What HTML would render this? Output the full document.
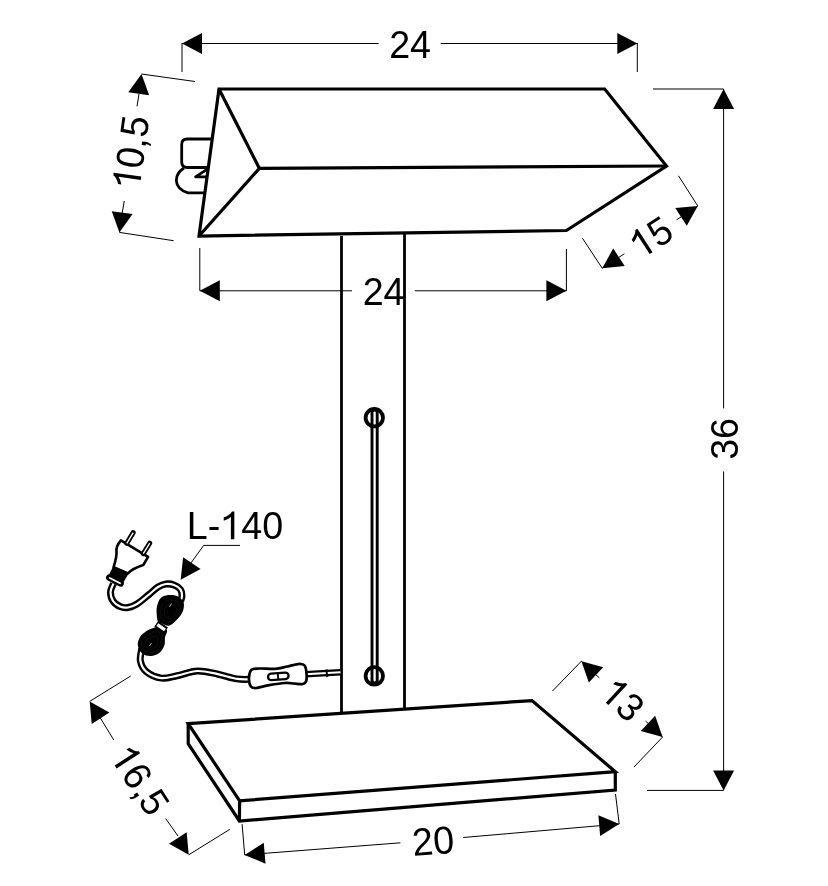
<!DOCTYPE html>
<html><head><meta charset="utf-8"><style>
html,body{margin:0;padding:0;background:#fff;}
svg{display:block;will-change:transform;}
text{font-family:"Liberation Sans",sans-serif;fill:#000;stroke:none;}
</style></head><body>
<svg width="828" height="886" viewBox="0 0 828 886" stroke="#000" fill="none">
<line x1="182" y1="43" x2="182" y2="72" stroke-width="1.0"/>
<line x1="637.3" y1="43" x2="637.3" y2="72" stroke-width="1.0"/>
<line x1="182" y1="43.5" x2="378.7" y2="43.5" stroke-width="1.0"/>
<line x1="440.7" y1="43.5" x2="637.3" y2="43.5" stroke-width="1.0"/>
<polygon points="182.00,43.50 202.00,33.00 202.00,54.00" fill="#000" stroke="none"/>
<polygon points="637.30,43.50 617.30,54.00 617.30,33.00" fill="#000" stroke="none"/>
<g transform="translate(410.10 44.15) rotate(0.00) scale(0.966 1) translate(0 13.73)" font-size="39"><text x="-21.68" y="0">24</text></g>
<polygon points="219.00,89.00 604.70,89.00 666.50,166.00 566.40,230.50 199.00,236.00" fill="none" stroke-width="3.2" stroke-linejoin="miter"/>
<polyline points="259.40,168.40 666.50,166.00" fill="none" stroke-width="3.2" stroke-linejoin="miter"/>
<polyline points="219.00,89.00 259.40,168.40 199.00,236.00" fill="none" stroke-width="3.2" stroke-linejoin="miter"/>
<path d="M211.7,139 H187.2 Q181.7,139 181.7,144.5 V162 Q181.7,167.5 187.2,167.5 H207.6" fill="none" stroke-width="2.8"/>
<path d="M184,168 Q176.3,173 176.3,180.5 Q176.8,189.5 188,192.8 H204" fill="none" stroke-width="2.8"/>
<path d="M207,169.3 L195.5,176.9 H206.5" fill="none" stroke-width="2.6" stroke-linejoin="round"/>
<line x1="141.5" y1="74" x2="195" y2="81.5" stroke-width="1.0"/>
<line x1="119.4" y1="232.4" x2="173.6" y2="240.7" stroke-width="1.0"/>
<polygon points="141.50,74.00 149.14,95.26 128.34,92.36" fill="#000" stroke="none"/>
<polygon points="119.40,232.40 111.76,211.14 132.56,214.04" fill="#000" stroke="none"/>
<line x1="139" y1="94" x2="137" y2="106.3" stroke-width="1.0"/>
<line x1="124.3" y1="201" x2="121.8" y2="215" stroke-width="1.0"/>
<g transform="translate(130.80 152.20) rotate(-82.00) scale(0.966 1) translate(0 13.73)" font-size="39"><path d="M-27.03,0 H-23.44 V-27.92 H-25.86 Q-27.81,-24.38 -34.44,-21.84 V-18.52 Q-29.76,-20.09 -27.03,-22.42 Z" fill="#000" stroke="#fff" stroke-width="0.0"/><text x="-16.26" y="0">0,5</text></g>
<line x1="653" y1="89" x2="723.6" y2="89" stroke-width="1.0"/>
<line x1="647" y1="790.4" x2="723.6" y2="790.4" stroke-width="1.0"/>
<line x1="723.6" y1="89" x2="723.6" y2="408.4" stroke-width="1.0"/>
<line x1="723.6" y1="471.4" x2="723.6" y2="790.4" stroke-width="1.0"/>
<polygon points="723.60,89.00 734.10,109.00 713.10,109.00" fill="#000" stroke="none"/>
<polygon points="723.60,790.40 713.10,770.40 734.10,770.40" fill="#000" stroke="none"/>
<g transform="translate(724.10 438.90) rotate(-90.00) scale(0.966 1) translate(0 13.73)" font-size="39"><text x="-21.68" y="0">36</text></g>
<line x1="678.5" y1="175.8" x2="697.8" y2="206" stroke-width="1.0"/>
<line x1="582.5" y1="238.3" x2="602.2" y2="268.2" stroke-width="1.0"/>
<polygon points="602.20,268.20 613.24,248.49 624.69,266.09" fill="#000" stroke="none"/>
<polygon points="697.80,206.00 686.76,225.71 675.31,208.11" fill="#000" stroke="none"/>
<g transform="translate(650.90 236.90) rotate(-33.00) scale(0.966 1) translate(0 13.73)" font-size="39"><path d="M-10.76,0 H-7.18 V-27.92 H-9.59 Q-11.54,-24.38 -18.17,-21.84 V-18.52 Q-13.49,-20.09 -10.76,-22.42 Z" fill="#000" stroke="#fff" stroke-width="0.0"/><text x="0.00" y="0">5</text></g>
<line x1="602.2" y1="268.2" x2="624.3792000000001" y2="253.7696" stroke-width="1.0"/>
<line x1="676.5767999999999" y1="219.8084" x2="697.8" y2="206" stroke-width="1.0"/>
<line x1="199.8" y1="248" x2="199.8" y2="290.8" stroke-width="1.0"/>
<line x1="566.4" y1="249" x2="566.4" y2="290.8" stroke-width="1.0"/>
<line x1="199.8" y1="290.8" x2="352" y2="290.8" stroke-width="1.0"/>
<line x1="414.8" y1="290.8" x2="566.4" y2="290.8" stroke-width="1.0"/>
<polygon points="199.80,290.80 219.80,280.30 219.80,301.30" fill="#000" stroke="none"/>
<polygon points="566.40,290.80 546.40,301.30 546.40,280.30" fill="#000" stroke="none"/>
<g transform="translate(383.60 291.40) rotate(0.00) scale(0.966 1) translate(0 13.73)" font-size="39"><text x="-21.68" y="0">24</text></g>
<line x1="341.5" y1="236" x2="341.5" y2="712.8" stroke-width="2.8"/>
<line x1="404.5" y1="233" x2="404.5" y2="708.5" stroke-width="2.8"/>
<circle cx="374.3" cy="417.7" r="8.7" fill="none" stroke-width="3.8"/>
<circle cx="374.3" cy="675.9" r="8.7" fill="none" stroke-width="3.8"/>
<path d="M372,680.5 V412.5 Q372,410 374.6,410 Q377.2,410 377.2,412.5 V680.5 Q377.2,683 374.6,683 Q372,683 372,680.5 Z" fill="none" stroke-width="2.9"/>
<polygon points="188.20,723.60 532.00,700.60 615.30,771.70 239.60,800.80" fill="none" stroke-width="3.2" stroke-linejoin="miter"/>
<polyline points="188.20,723.60 188.20,743.70 239.40,821.00 615.30,790.00 615.30,771.70" fill="none" stroke-width="3.2" stroke-linejoin="miter"/>
<line x1="239.6" y1="800.8" x2="239.4" y2="821" stroke-width="3.2"/>
<line x1="552.5" y1="691" x2="581.4" y2="661.2" stroke-width="1.0"/>
<line x1="634" y1="767" x2="662.6" y2="737" stroke-width="1.0"/>
<polygon points="581.40,661.20 603.18,667.17 588.85,682.52" fill="#000" stroke="none"/>
<polygon points="662.60,737.00 640.82,731.03 655.15,715.68" fill="#000" stroke="none"/>
<g transform="translate(622.80 699.70) rotate(43.00) scale(0.966 1) translate(0 13.73)" font-size="39"><path d="M-10.76,0 H-7.18 V-27.92 H-9.59 Q-11.54,-24.38 -18.17,-21.84 V-18.52 Q-13.49,-20.09 -10.76,-22.42 Z" fill="#000" stroke="#fff" stroke-width="0.0"/><text x="0.00" y="0">3</text></g>
<line x1="581.4" y1="661.2" x2="599.264" y2="677.8760000000001" stroke-width="1.0"/>
<line x1="645.548" y1="721.082" x2="662.6" y2="737" stroke-width="1.0"/>
<line x1="89.7" y1="701.4" x2="130.7" y2="676" stroke-width="1.0"/>
<line x1="188.7" y1="854.8" x2="229.8" y2="829.4" stroke-width="1.0"/>
<polygon points="89.70,701.40 109.37,712.51 91.72,723.90" fill="#000" stroke="none"/>
<polygon points="188.70,854.80 169.03,843.69 186.68,832.30" fill="#000" stroke="none"/>
<line x1="100" y1="717.5" x2="113.8" y2="740" stroke-width="1.0"/>
<line x1="165.7" y1="818.6" x2="178" y2="836" stroke-width="1.0"/>
<g transform="translate(140.40 780.00) rotate(57.20) scale(0.966 1) translate(0 13.73)" font-size="39"><path d="M-27.03,0 H-23.44 V-27.92 H-25.86 Q-27.81,-24.38 -34.44,-21.84 V-18.52 Q-29.76,-20.09 -27.03,-22.42 Z" fill="#000" stroke="#fff" stroke-width="0.0"/><text x="-16.26" y="0">6,5</text></g>
<line x1="242.1" y1="824.1" x2="244.7" y2="854.9" stroke-width="1.0"/>
<line x1="615.5" y1="794" x2="619.2" y2="824" stroke-width="1.0"/>
<polygon points="244.70,854.90 263.77,842.79 265.50,863.72" fill="#000" stroke="none"/>
<polygon points="619.20,824.00 600.13,836.11 598.40,815.18" fill="#000" stroke="none"/>
<line x1="244.7" y1="854.9" x2="400.4" y2="842.8" stroke-width="1.0"/>
<line x1="463.2" y1="837.5" x2="619.2" y2="824" stroke-width="1.0"/>
<g transform="translate(433.00 840.70) rotate(-4.70) scale(0.966 1) translate(0 13.73)" font-size="39"><text x="-21.68" y="0">20</text></g>
<g transform="translate(235.00 525.60) rotate(0.00) scale(0.966 1) translate(0 13.73)" font-size="39"><text x="-49.86" y="0">L-</text><path d="M-4.27,0 H-0.68 V-27.92 H-3.10 Q-5.05,-24.38 -11.68,-21.84 V-18.52 Q-7.00,-20.09 -4.27,-22.42 Z" fill="#000" stroke="#fff" stroke-width="0.0"/><text x="6.49" y="0">40</text></g>
<line x1="203.7" y1="545.4" x2="240" y2="545.4" stroke-width="1.0"/>
<line x1="203.7" y1="545.4" x2="188" y2="567" stroke-width="1.0"/>
<polygon points="180.70,579.70 183.12,557.24 200.56,568.94" fill="#000" stroke="none"/>
<path d="M113.50,583.50 C113.00,584.92 110.58,589.08 110.50,592.00 C110.42,594.92 111.42,598.58 113.00,601.00 C114.58,603.42 117.50,605.42 120.00,606.50 C122.50,607.58 125.17,607.92 128.00,607.50 C130.83,607.08 133.50,606.17 137.00,604.00 C140.50,601.83 145.50,597.33 149.00,594.50 C152.50,591.67 155.17,588.75 158.00,587.00 C160.83,585.25 163.33,584.33 166.00,584.00 C168.67,583.67 171.58,584.08 174.00,585.00 C176.42,585.92 179.17,587.67 180.50,589.50 C181.83,591.33 182.00,594.00 182.00,596.00 C182.00,598.00 180.75,600.58 180.50,601.50" fill="none" stroke="#000" stroke-width="7.0" stroke-linecap="butt" stroke-linejoin="round"/>
<path d="M113.50,583.50 C113.00,584.92 110.58,589.08 110.50,592.00 C110.42,594.92 111.42,598.58 113.00,601.00 C114.58,603.42 117.50,605.42 120.00,606.50 C122.50,607.58 125.17,607.92 128.00,607.50 C130.83,607.08 133.50,606.17 137.00,604.00 C140.50,601.83 145.50,597.33 149.00,594.50 C152.50,591.67 155.17,588.75 158.00,587.00 C160.83,585.25 163.33,584.33 166.00,584.00 C168.67,583.67 171.58,584.08 174.00,585.00 C176.42,585.92 179.17,587.67 180.50,589.50 C181.83,591.33 182.00,594.00 182.00,596.00 C182.00,598.00 180.75,600.58 180.50,601.50" fill="none" stroke="#fff" stroke-width="2.2" stroke-linecap="butt" stroke-linejoin="round"/>
<path d="M141.80,648.50 C141.57,650.58 139.62,657.12 140.40,661.00 C141.18,664.88 143.00,668.95 146.50,671.80 C150.00,674.65 156.30,677.45 161.40,678.10 C166.50,678.75 171.08,676.88 177.10,675.70 C183.12,674.52 190.70,671.25 197.50,671.00 C204.30,670.75 211.35,672.88 217.90,674.20 C224.45,675.52 231.28,678.05 236.80,678.90 C242.32,679.75 248.63,679.23 251.00,679.30" fill="none" stroke="#000" stroke-width="7.0" stroke-linecap="butt" stroke-linejoin="round"/>
<path d="M141.80,648.50 C141.57,650.58 139.62,657.12 140.40,661.00 C141.18,664.88 143.00,668.95 146.50,671.80 C150.00,674.65 156.30,677.45 161.40,678.10 C166.50,678.75 171.08,676.88 177.10,675.70 C183.12,674.52 190.70,671.25 197.50,671.00 C204.30,670.75 211.35,672.88 217.90,674.20 C224.45,675.52 231.28,678.05 236.80,678.90 C242.32,679.75 248.63,679.23 251.00,679.30" fill="none" stroke="#fff" stroke-width="2.2" stroke-linecap="butt" stroke-linejoin="round"/>
<path d="M305,674.3 L340.5,672.2" fill="none" stroke="#000" stroke-width="6.6" stroke-linecap="butt" stroke-linejoin="round"/>
<path d="M305,674.3 L340.5,672.2" fill="none" stroke="#fff" stroke-width="2.0" stroke-linecap="butt" stroke-linejoin="round"/>
<line x1="326.3" y1="669.5" x2="327.3" y2="677" stroke="#000" stroke-width="2"/>
<path d="M169.00,625.80 C166.75,626.22 163.85,624.20 162.00,623.50 C160.15,622.80 158.78,623.18 157.90,621.60 C157.02,620.02 156.87,616.43 156.70,614.00 C156.53,611.57 156.30,609.58 156.90,607.00 C157.50,604.42 158.42,600.48 160.30,598.50 C162.18,596.52 165.33,595.48 168.20,595.10 C171.07,594.72 174.97,595.05 177.50,596.20 C180.03,597.35 182.42,599.78 183.40,602.00 C184.38,604.22 183.88,607.25 183.40,609.50 C182.92,611.75 181.82,613.58 180.50,615.50 C179.18,617.42 177.42,619.28 175.50,621.00 C173.58,622.72 171.25,625.38 169.00,625.80 Z" fill="#000" stroke="none"/>
<path d="M166.80,630.00 C167.97,631.73 165.40,634.85 165.00,637.40 C164.60,639.95 165.32,642.73 164.40,645.30 C163.48,647.87 161.77,651.02 159.50,652.80 C157.23,654.58 153.70,655.88 150.80,656.00 C147.90,656.12 144.27,655.28 142.10,653.50 C139.93,651.72 138.15,648.05 137.80,645.30 C137.45,642.55 138.67,639.30 140.00,637.00 C141.33,634.70 143.80,632.92 145.80,631.50 C147.80,630.08 149.97,629.25 152.00,628.50 C154.03,627.75 155.53,626.75 158.00,627.00 C160.47,627.25 165.63,628.27 166.80,630.00 Z" fill="#000" stroke="none"/>
<path d="M169.56,622.22 C167.94,622.52 165.85,621.06 164.52,620.56 C163.19,620.06 162.20,620.33 161.57,619.19 C160.93,618.05 160.82,615.47 160.70,613.72 C160.58,611.97 160.42,610.54 160.85,608.68 C161.28,606.82 161.94,603.99 163.30,602.56 C164.65,601.13 166.92,600.39 168.98,600.11 C171.05,599.84 173.86,600.08 175.68,600.90 C177.50,601.73 179.22,603.48 179.93,605.08 C180.64,606.68 180.28,608.86 179.93,610.48 C179.58,612.10 178.79,613.42 177.84,614.80 C176.89,616.18 175.62,617.52 174.24,618.76 C172.86,620.00 171.18,621.92 169.56,622.22 Z" fill="none" stroke="#1c1c1c" stroke-width="0.6"/>
<path d="M162.52,633.92 C163.36,635.17 161.51,637.41 161.22,639.25 C160.93,641.08 161.45,643.09 160.79,644.94 C160.13,646.78 158.89,649.05 157.26,650.34 C155.63,651.62 153.08,652.56 151.00,652.64 C148.91,652.72 146.29,652.12 144.73,650.84 C143.17,649.56 141.89,646.92 141.64,644.94 C141.38,642.96 142.26,640.62 143.22,638.96 C144.18,637.30 145.96,636.02 147.40,635.00 C148.84,633.98 150.40,633.38 151.86,632.84 C153.32,632.30 154.40,631.58 156.18,631.76 C157.96,631.94 161.68,632.67 162.52,633.92 Z" fill="none" stroke="#1c1c1c" stroke-width="0.6"/>
<path d="M170.10,618.76 C169.09,618.95 167.78,618.04 166.95,617.73 C166.12,617.41 165.50,617.58 165.10,616.87 C164.71,616.16 164.64,614.55 164.56,613.45 C164.49,612.36 164.38,611.46 164.66,610.30 C164.93,609.14 165.34,607.37 166.19,606.48 C167.03,605.58 168.45,605.12 169.74,604.95 C171.03,604.77 172.79,604.92 173.93,605.44 C175.06,605.96 176.14,607.05 176.58,608.05 C177.02,609.05 176.80,610.41 176.58,611.42 C176.36,612.44 175.87,613.26 175.28,614.12 C174.68,614.99 173.89,615.83 173.03,616.60 C172.16,617.37 171.11,618.57 170.10,618.76 Z" fill="none" stroke="#1c1c1c" stroke-width="0.6"/>
<path d="M158.38,637.70 C158.91,638.48 157.75,639.88 157.57,641.03 C157.39,642.18 157.72,643.43 157.31,644.59 C156.89,645.74 156.12,647.16 155.10,647.96 C154.08,648.76 152.49,649.35 151.19,649.40 C149.88,649.45 148.25,649.08 147.27,648.27 C146.30,647.47 145.49,645.82 145.34,644.59 C145.18,643.35 145.72,641.88 146.32,640.85 C146.92,639.82 148.03,639.01 148.94,638.38 C149.84,637.74 150.81,637.36 151.72,637.02 C152.64,636.69 153.31,636.24 154.43,636.35 C155.54,636.46 157.86,636.92 158.38,637.70 Z" fill="none" stroke="#1c1c1c" stroke-width="0.6"/>
<line x1="169.5" y1="607" x2="171.5" y2="603.5" stroke="#bbb" stroke-width="0.9"/>
<line x1="149.5" y1="646" x2="151.5" y2="643" stroke="#bbb" stroke-width="0.9"/>
<path d="M156.3,623.7 L166,630.4" stroke="#000" stroke-width="7" stroke-linecap="butt"/>
<path d="M157.3,624.6 L165,629.8" stroke="#fff" stroke-width="3.2" stroke-linecap="butt"/>
<path d="M120.9,540.4 L148.1,556.9 L143.3,565 C137,567 131,570 127.9,573.4 L113.6,567.2 C115.5,561 116.8,556 116.5,552 C116,549 117,545 120.9,540.4 Z" fill="#fff" stroke="#000" stroke-width="2.6" stroke-linejoin="round"/>
<path d="M113.6,567.2 L127.9,573.4 L123,581.5 L109.5,575.5 Z" fill="#000" stroke="#000" stroke-width="1.5"/>
<path d="M109.3,577.6 L120.6,583.4" stroke="#000" stroke-width="6.6" stroke-linecap="round"/>
<path d="M109.8,578 L120.1,583.3" stroke="#fff" stroke-width="1.7" stroke-linecap="round"/>
<path d="M133.2,532.6 L126.8,543.3" stroke="#000" stroke-width="5" stroke-linecap="round"/>
<path d="M133.2,532.6 L126.8,543.3" stroke="#fff" stroke-width="1.3" stroke-linecap="butt"/>
<path d="M149.7,543.2 L143.3,553.6" stroke="#000" stroke-width="5" stroke-linecap="round"/>
<path d="M149.7,543.2 L143.3,553.6" stroke="#fff" stroke-width="1.3" stroke-linecap="butt"/>
<path d="M251.50,669.80 C253.25,668.22 255.55,668.65 259.50,668.50 C263.45,668.35 270.57,669.23 275.20,668.90 C279.83,668.57 283.25,667.35 287.30,666.50 C291.35,665.65 296.58,663.92 299.50,663.80 C302.42,663.68 303.63,664.18 304.80,665.80 C305.97,667.42 306.27,670.97 306.50,673.50 C306.73,676.03 306.78,679.25 306.20,681.00 C305.62,682.75 305.03,683.58 303.00,684.00 C300.97,684.42 297.02,683.67 294.00,683.50 C290.98,683.33 289.03,682.72 284.90,683.00 C280.77,683.28 274.02,684.37 269.20,685.20 C264.38,686.03 259.07,687.78 256.00,688.00 C252.93,688.22 251.97,688.17 250.80,686.50 C249.63,684.83 248.88,680.78 249.00,678.00 C249.12,675.22 249.75,671.38 251.50,669.80 Z" fill="#fff" stroke="#000" stroke-width="2.7" stroke-linejoin="round"/>
<rect x="268" y="673.2" width="20.6" height="6.4" rx="3.2" fill="#fff" stroke="#000" stroke-width="2.3" transform="rotate(-4 278.3 676.4)"/>
<line x1="277.8" y1="673" x2="278.3" y2="680" stroke="#000" stroke-width="1.9"/>
</svg>
</body></html>
